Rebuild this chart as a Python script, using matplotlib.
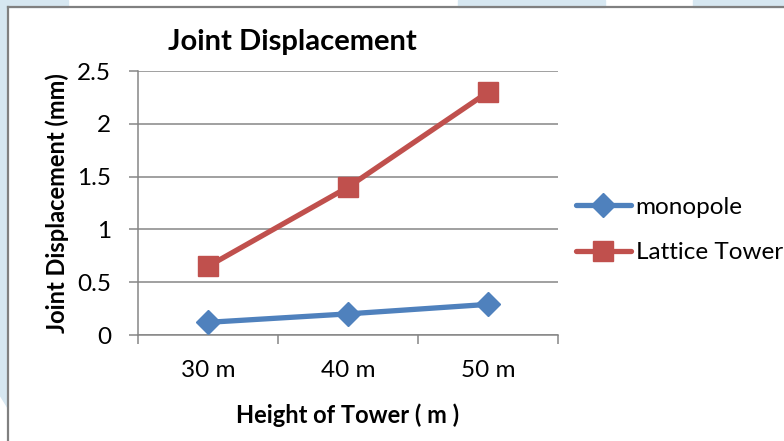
import matplotlib.pyplot as plt
from matplotlib.patches import Rectangle, Polygon
from matplotlib.lines import Line2D

# --- data ---
heights = ['30 m', '40 m', '50 m']
monopole = [0.12, 0.20, 0.29]
lattice = [0.65, 1.40, 2.30]
y_ticks = [0, 0.5, 1, 1.5, 2, 2.5]
y_tick_labels = ['0', '0.5', '1', '1.5', '2', '2.5']

BLUE = '#4F81BD'
RED = '#C0504D'
GRID = '#868686'
WATERMARK = '#D6E7F1'
FONT = 'Lato'
FS = 17.5  # body text size

W, H = 784, 441
fig = plt.figure(figsize=(W / 100, H / 100), dpi=100)
fig.patch.set_facecolor('white')


def px(x, y):
    """pixel coords (origin top-left) -> figure fraction"""
    return x / W, 1 - y / H


# --- light blue page watermark peeking out around the chart frame ---
for x0, x1 in [(0, 68), (458, 605), (693, 784)]:
    fig.patches.append(Rectangle(px(x0, 7), (x1 - x0) / W, 7 / H,
                                 transform=fig.transFigure, color=WATERMARK, zorder=0))
fig.patches.append(Polygon([px(0, 0), px(8, 0), px(8, 408), px(0, 395)],
                           closed=True, transform=fig.transFigure, color=WATERMARK, zorder=0))

# chart frame (only top and left edges are visible in the crop)
fig.add_artist(Line2D([px(8, 7)[0], 1], [px(8, 7)[1]] * 2, transform=fig.transFigure,
                      color='#808080', lw=1.6))
fig.add_artist(Line2D([px(8, 7)[0]] * 2, [0, px(8, 7)[1]], transform=fig.transFigure,
                      color='#808080', lw=1.6))

# --- plot area ---
left, top = px(138, 71)
right, bottom = px(558, 335)
ax = fig.add_axes([left, bottom, right - left, top - bottom])
ax.set_facecolor('white')

ax.plot(heights, monopole, color=BLUE, lw=3.8, marker='D', markersize=12,
        solid_capstyle='round', label='monopole', zorder=3)
ax.plot(heights, lattice, color=RED, lw=3.8, marker='s', markersize=14,
        solid_capstyle='round', label='Lattice Tower', zorder=3)

ax.set_xlim(-0.5, 2.5)
ax.set_ylim(0, 2.5)

ax.set_yticks(y_ticks)
ax.set_yticklabels(y_tick_labels, fontsize=FS, family=FONT)
ax.grid(axis='y', color=GRID, lw=1.1)
ax.set_axisbelow(True)

# category boundaries get the tick marks, labels sit at category centres
ax.set_xticks([-0.5, 0.5, 1.5, 2.5])
ax.set_xticklabels([])
ax.set_xticks([0, 1, 2], minor=True)
ax.set_xticklabels(heights, minor=True, fontsize=FS, family=FONT)
ax.tick_params(axis='x', which='major', length=6.5, width=1.1, color=GRID, direction='out')
ax.tick_params(axis='x', which='minor', length=0, pad=18)
ax.tick_params(axis='y', length=6.5, width=1.1, color=GRID, pad=13)

for side in ['top', 'right']:
    ax.spines[side].set_visible(False)
for side in ['left', 'bottom']:
    ax.spines[side].set_color(GRID)
    ax.spines[side].set_linewidth(1.1)

# --- titles ---
fig.text(*px(292, 42), 'Joint Displacement', ha='center', va='center',
         fontsize=21, fontweight='bold', family=FONT)
fig.text(*px(57, 203), 'Joint Displacement (mm)', ha='center', va='center',
         rotation=90, fontsize=17, fontweight='bold', family=FONT)
fig.text(*px(348, 415), 'Height of Tower ( m )', ha='center', va='center',
         fontsize=17, fontweight='bold', family=FONT)

leg = ax.legend(loc='center left', bbox_to_anchor=px(576, 230),
                bbox_transform=fig.transFigure, frameon=False,
                prop={'family': FONT, 'size': FS}, handlelength=2.25,
                handletextpad=0.2, labelspacing=1.0, borderaxespad=0,
                borderpad=0)

fig.savefig('out.png', dpi=100)
